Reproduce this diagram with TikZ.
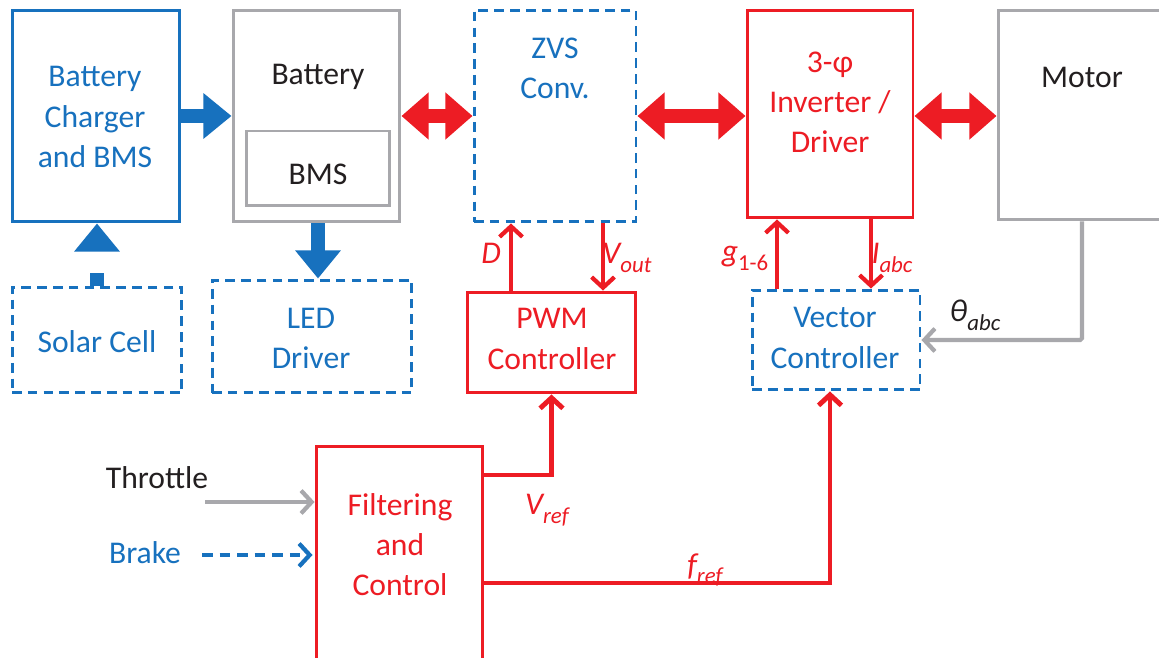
\documentclass[tikz,border=0pt]{standalone}
\usepackage{fontspec}
\setmainfont{Carlito}
\usetikzlibrary{arrows.meta}
\definecolor{cblue}{RGB}{23,113,190}
\definecolor{cred}{RGB}{237,28,36}
\definecolor{cgray}{RGB}{168,168,172}
\definecolor{ctext}{RGB}{35,31,32}
\newcommand\lsub[1]{\raisebox{-0.28em}{\fontsize{13}{13}\selectfont #1}}
\tikzset{
  box/.style={draw, line width=1.7pt, inner sep=0pt},
  dbox/.style={box, dash pattern=on 5.5pt off 3.5pt},
  txt/.style={font=\fontsize{18}{22.8}\selectfont, align=center, inner sep=0pt},
  lbl/.style={font=\fontsize{18}{22.8}\selectfont\itshape, inner sep=0pt, text=cred},
  bigarrow/.style={line width=8pt, -{Triangle[width=25pt,length=16pt]}},
  dblarrow/.style={draw=cred, line width=8pt, {Triangle[width=26pt,length=15.5pt]}-{Triangle[width=26pt,length=15.5pt]}},
  sig/.style={line width=2.4pt, -{Straight Barb[length=6pt,width=13pt]}},
}
\begin{document}
\begin{tikzpicture}[x=0.02cm,y=-0.02cm]
\clip (0,0) rectangle (1159,658);
\fill[white] (0,0) rectangle (1159,658);
% boxes
\node[box, draw=cblue, minimum width=3.36cm, minimum height=4.24cm] (chg) at (96,116) {};
\node[box, draw=cgray, minimum width=3.34cm, minimum height=4.24cm] (bat) at (316.5,116) {};
\node[box, draw=cgray, minimum width=2.88cm, minimum height=1.5cm] (bms) at (318,168.5) {};
\node[dbox, draw=cblue, minimum width=3.24cm, minimum height=4.24cm] (zvs) at (555,116) {};
\node[box, draw=cred, minimum width=3.32cm, minimum height=4.16cm] (inv) at (830,114) {};
\node[box, draw=cgray, minimum width=3.54cm, minimum height=4.2cm] (mot) at (1086.5,115) {};
\node[dbox, draw=cblue, minimum width=3.4cm, minimum height=2.12cm] (sol) at (97,340) {};
\node[dbox, draw=cblue, minimum width=4.0cm, minimum height=2.26cm] (led) at (312,336.5) {};
\node[box, draw=cred, minimum width=3.38cm, minimum height=2.02cm] (pwm) at (551.5,342.5) {};
\node[dbox, draw=cblue, minimum width=3.36cm, minimum height=2.0cm] (vec) at (836,340) {};
\node[box, draw=cred, minimum width=3.34cm, minimum height=4.68cm] (fil) at (399.5,563) {};
% texts
\node[txt, text=cblue] (chgT) at (95,117) {Battery\\Charger\\and BMS};
\node[txt, text=ctext] (batT) at (318,77) {Battery};
\node[txt, text=ctext] (bmsT) at (318,174) {BMS};
\node[txt, text=cblue] (zvsT) at (555,68) {ZVS\\Conv.};
\node[txt, text=cred] (invT) at (830,102) {3-φ\\Inverter /\\Driver};
\node[txt, text=ctext] (motT) at (1082,77) {Motor};
\node[txt, text=cblue] (solT) at (97,342) {Solar Cell};
\node[txt, text=cblue] (ledT) at (311,338) {LED\\Driver};
\node[txt, text=cred] (pwmT) at (552,339) {PWM\\Controller};
\node[txt, text=cblue] (vecT) at (835,338) {Vector\\Controller};
\node[txt, text=cred] (filT) at (400,545) {Filtering\\and\\Control};
\node[txt, text=ctext] (thrT) at (157,478) {Throttle};
\node[txt, text=cblue] (brkT) at (145,553) {Brake};
% big arrows
\draw[bigarrow, draw=cblue] (chg.east) -- (bat.west);
\draw[bigarrow, draw=cblue] (318,0 |- bat.south) -- (318,0 |- led.north);
\draw[bigarrow, draw=cblue, dash pattern=on 7.4pt off 20pt] (sol.north) -- (sol.north |- chg.south);
\draw[dblarrow] (bat.east) -- (zvs.west);
\draw[dblarrow] (zvs.east) -- (zvs.east -| inv.west);
\draw[dblarrow] (zvs.east -| inv.east) -- (zvs.east -| mot.west);
% signal arrows
\draw[sig, draw=cred] (511,0 |- pwm.north) -- (511,0 |- zvs.south);
\draw[sig, draw=cred] (603,0 |- zvs.south) -- (603,0 |- pwm.north);
\draw[sig, draw=cred] (777,0 |- vec.north) -- (777,0 |- inv.south);
\draw[sig, draw=cred] (871,0 |- inv.south) -- (871,0 |- vec.north);
\draw[sig, draw=cgray, rounded corners=1pt] (1082,0 |- mot.south) |- (vec.east);
\draw[sig, draw=cred, line width=2.8pt] (fil.east |- 0,475) -| (pwm.south);
\draw[sig, draw=cred, line width=2.8pt] (fil.east |- 0,583) -| (830,0 |- vec.south);
\coordinate (thr) at (205,502);
\coordinate (brk) at (202,555);
\draw[sig, draw=cgray] (thr) -- (fil.west |- thr);
\draw[sig, draw=cblue, dash pattern=on 6pt off 4pt] (brk) -- ([xshift=-0.04cm]fil.west |- brk);
% labels
\node[lbl] (lD) at (491,253) {D};
\node[lbl] (lV) at (627,258) {V\lsub{out}};
\node[lbl] (lg) at (745,258) {g\lsub{\upshape 1-6}};
\node[lbl] (lI) at (892,258) {I\lsub{abc}};
\node[lbl, text=ctext] (lt) at (975,315) {θ\lsub{abc}};
\node[lbl] (lvr) at (547,510) {V\lsub{ref}};
\node[lbl] (lfr) at (705,570) {f\lsub{ref}};
\end{tikzpicture}
\end{document}
